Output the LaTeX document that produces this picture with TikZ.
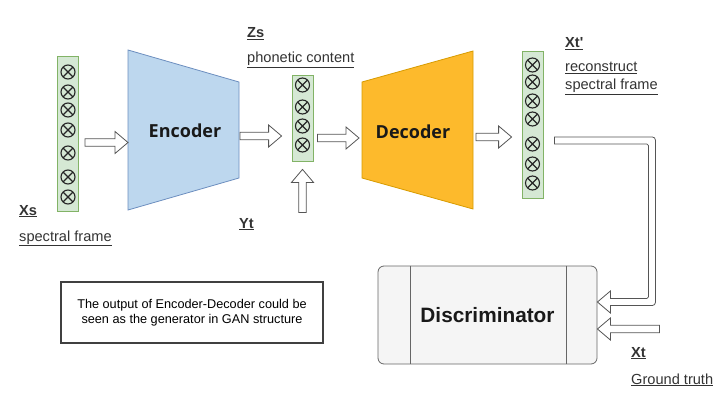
\documentclass[tikz,border=0pt]{standalone}
\usepackage{fontspec}
\setmainfont{Liberation Sans}
\newfontfamily\osans{Open Sans}
\usetikzlibrary{calc}
\definecolor{encfill}{HTML}{BDD7EE}
\definecolor{encdraw}{HTML}{6C8EBF}
\definecolor{decfill}{HTML}{FDBA2C}
\definecolor{decdraw}{HTML}{D79B00}
\definecolor{colfill}{HTML}{D5E8D4}
\definecolor{coldraw}{HTML}{82B366}
\definecolor{arrgray}{HTML}{555555}
\definecolor{labgray}{HTML}{333333}
\definecolor{discfill}{HTML}{F5F5F5}
\definecolor{discdraw}{HTML}{666666}
\newcommand\harrow[2]{%
  \draw[harr] ($(#1)!3.75pt!90:(#2)$) -- ($(#2)!13pt!(#1)!3.75pt!90:(#2)$)
    -- ($(#2)!13pt!(#1)!11pt!90:(#2)$) -- (#2)
    -- ($(#2)!13pt!(#1)!11pt!-90:(#2)$) -- ($(#2)!13pt!(#1)!3.75pt!-90:(#2)$)
    -- ($(#1)!3.75pt!-90:(#2)$) -- cycle;}
\tikzset{
  harr/.style={draw=arrgray, fill=white, line width=0.8pt, line join=miter},
  colbox/.style={draw=coldraw, fill=colfill, line width=0.8pt, minimum width=21pt, inner sep=0pt},
  xc/.style={circle, draw=black!85, line width=1.1pt, minimum size=14pt, inner sep=0pt,
    path picture={\draw[black!85, line width=1.1pt]
      (path picture bounding box.north west) -- (path picture bounding box.south east)
      (path picture bounding box.north east) -- (path picture bounding box.south west);}},
  lab/.style={anchor=base west, inner sep=0pt, text=labgray, font=\fontsize{14.6}{16}\selectfont},
  blab/.style={lab, font=\fontsize{14.6}{16}\selectfont\bfseries},
  big/.style={font=\osans\fontsize{18}{20}\selectfont\bfseries, text=black!90},
}
\begin{document}
\begin{tikzpicture}[x=1pt,y=-1pt]
\useasboundingbox (0,0) rectangle (719,401);
% ---- Xs column
\node[colbox, minimum height=155pt] (xs) at (68,133.5) {};
\foreach \yy [count=\i] in {72,92,110,130,153,177,197}
  \node[xc] (xs\i) at (68,\yy) {};
% ---- Encoder
\draw[fill=encfill, draw=encdraw, line width=0.8pt] (128,50) -- (239,82) -- (239,178) -- (128,210) -- cycle;
\node[big] (enc) at (185,131) {Encoder};
% ---- Zs column
\node[colbox, minimum height=86pt] (zs) at (302.5,118) {};
\foreach \yy [count=\i] in {85,107,126,145}
  \node[xc] (zs\i) at (302.5,\yy) {};
% ---- Decoder
\draw[fill=decfill, draw=decdraw, line width=0.8pt] (362,82) -- (473,51) -- (473,209) -- (362,178) -- cycle;
\node[big] (dec) at (413,132) {Decoder};
% ---- Xt' column
\node[colbox, minimum height=147pt] (xt) at (532.5,124.5) {};
\foreach \yy [count=\i] in {65,82,101,119,144,164,183}
  \node[xc] (xt\i) at (532.5,\yy) {};
% ---- Discriminator
\node[draw=discdraw, fill=discfill, line width=0.8pt, rounded corners=6pt,
      minimum width=219pt, minimum height=98pt, inner sep=0pt] (disc) at (487.5,315) {};
\draw[discdraw, line width=0.8pt] ($(disc.north west)+(33,0)$) -- ($(disc.south west)+(33,0)$);
\draw[discdraw, line width=0.8pt] ($(disc.north east)+(-31,0)$) -- ($(disc.south east)+(-31,0)$);
\node[font=\fontsize{20.8}{22}\selectfont\bfseries, text=black!90] (disct) at (disc.center) {Discriminator};
% ---- note box
\node[draw=black!75, line width=1.5pt, minimum width=262pt, minimum height=61pt,
      align=center, font=\fontsize{12.7}{15}\selectfont, text=black] (note) at (192,312.5)
  {The output of Encoder-Decoder could be\\seen as the generator in GAN structure};
% ---- labels
\node[blab] (xsl) at (19,215) {\underline{Xs}};
\node[lab] (xsd) at (19,241) {\underline{spectral frame}};
\node[blab] (zsl) at (247,38) {\underline{Zs}};
\node[lab] (zsd) at (247,63) {\underline{phonetic content}};
\node[blab] (ytl) at (239,228) {\underline{Yt}};
\node[blab] (xtl) at (565,48) {\underline{Xt\textquotesingle}};
\node[lab] (xtd1) at (565,72) {\underline{reconstruct}};
\node[lab] (xtd2) at (565,90) {\underline{spectral frame}};
\node[blab] (gtl) at (631,357) {\underline{Xt}};
\node[lab] (gtd) at (631,384) {\underline{Ground truth}};
% ---- connector coordinates
\coordinate (a1s) at ($(xs.east)+(6,9)$);
\coordinate (a1e) at (128,142.5);
\coordinate (a2s) at (240,136);
\coordinate (a2e) at ($(zs.west)+(-10,18)$);
\coordinate (a3s) at ($(zs.east)+(4,20)$);
\coordinate (a3e) at (359,138);
\coordinate (a4s) at ($(zs.south)+(0,51)$);
\coordinate (a4e) at ($(zs.south)+(0,8)$);
\coordinate (a5s) at (476,137);
\coordinate (a5e) at ($(xt.west)+(-10,12.5)$);
\coordinate (a7s) at ($(disc.east)+(62,14)$);
\coordinate (t2) at ($(disc.east)+(0,14)$);
\coordinate (xtout) at ($(xt.east)+(11,16)$);
\coordinate (t1) at ($(disc.east)+(0,-13)$);
% ---- arrows
\harrow{a1s}{a1e}
\harrow{a2s}{a2e}
\harrow{a3s}{a3e}
\harrow{a4s}{a4e}
\harrow{a5s}{a5e}
\harrow{a7s}{t2}
\draw[harr] ($(xtout)+(0,-3.5)$) [rounded corners=3pt] -- ($(xtout)+(101,-3.5)$)
  -- ($(t1)+(58,3.5)$) [sharp corners] -- ($(t1)+(13,3.5)$) -- ($(t1)+(13,11)$) -- (t1)
  -- ($(t1)+(13,-11)$) -- ($(t1)+(13,-3.5)$) [rounded corners=1.5pt] -- ($(t1)+(51,-3.5)$)
  -- ($(xtout)+(94,3.5)$) [sharp corners] -- ($(xtout)+(0,3.5)$) -- cycle;
\end{tikzpicture}
\end{document}
